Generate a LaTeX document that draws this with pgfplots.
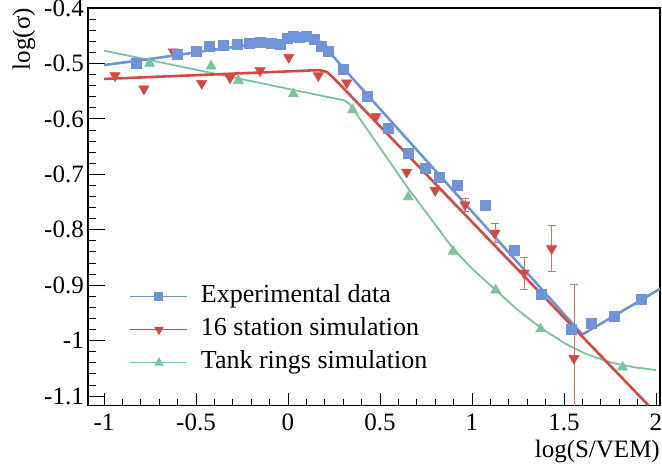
\documentclass[border=0pt]{standalone}
\usepackage{pgfplots}
\pgfplotsset{compat=1.18}
\usepackage{pgfplotstable}
\usepackage{fontspec}
\setmainfont{Liberation Serif}
\definecolor{cblue}{RGB}{112,148,216}
\definecolor{cred}{RGB}{214,72,66}
\definecolor{cgreen}{RGB}{124,196,156}
\definecolor{cerr}{RGB}{226,110,104}

\pgfplotstableread{
x y
-0.826 -0.500
-0.60 -0.484
-0.50 -0.478
-0.43 -0.469
-0.35 -0.467
-0.275 -0.465
-0.21 -0.464
-0.15 -0.461
-0.089 -0.463
-0.04 -0.465
-0.007 -0.455
0.029 -0.451
0.06 -0.453
0.10 -0.450
0.141 -0.456
0.178 -0.469
0.216 -0.478
0.30 -0.510
0.428 -0.559
0.546 -0.617
0.654 -0.662
0.745 -0.689
0.82 -0.706
0.922 -0.719
1.07 -0.755
1.228 -0.836
1.378 -0.916
1.54 -0.980
1.65 -0.968
1.773 -0.956
}\expdata
\pgfplotstableread{
x y e
1.92 -0.925 0.008
}\expdataerr
\pgfplotstableread{
x y
-0.94 -0.522
-0.783 -0.546
-0.623 -0.479
-0.469 -0.536
-0.315 -0.526
-0.152 -0.513
0.004 -0.489
0.165 -0.522
0.319 -0.535
0.478 -0.596
0.645 -0.696
0.80 -0.729
}\stationdata
\pgfplotstableread{
x y e
0.962 -0.755 0.011
1.125 -0.806 0.017
1.283 -0.878 0.029
1.433 -0.834 0.042
1.554 -1.032 0.133
}\stationdataerr
\pgfplotstableread{
x y
-0.753 -0.500
-0.418 -0.505
-0.27 -0.531
0.029 -0.555
0.351 -0.584
0.654 -0.741
0.898 -0.839
1.129 -0.909
1.373 -0.979
1.819 -1.048
}\ringdata

\begin{document}
\fontsize{25bp}{30bp}\selectfont
\begin{tikzpicture}
\path[use as bounding box] (-88bp,-60.5bp) rectangle (574bp,405.5bp);
\begin{axis}[
  at={(0,0)}, anchor=south west,
  scale only axis, width=572bp, height=397.5bp,
  xmin=-1.087, xmax=2.022, ymin=-1.117, ymax=-0.4,
  axis line style={line width=1.1bp},
  tick align=inside, xtick pos=bottom, ytick pos=left,
  xtick={-1,-0.5,0,0.5,1,1.5,2},
  xticklabels={-1,-0.5,0,0.5,1,1.5,2},
  ytick={-1.1,-1,-0.9,-0.8,-0.7,-0.6,-0.5,-0.4},
  yticklabels={-1.1,-1,-0.9,-0.8,-0.7,-0.6,-0.5,-0.4},
  minor x tick num=4, minor y tick num=4,
  xtick style={/pgfplots/major tick length=12bp, /pgfplots/minor tick length=6bp, line width=0.9bp, black},
  ytick style={/pgfplots/major tick length=17bp, /pgfplots/minor tick length=8.5bp, line width=0.9bp, black},
  xticklabel style={anchor=base, yshift=-24.5bp, inner sep=0pt},
  yticklabel style={anchor=east, xshift=-4bp, inner sep=0pt},
  legend image code/.code={\draw[mark repeat=2,mark phase=2,#1] plot coordinates {(0bp,0bp) (28.5bp,0bp) (57bp,0bp)}; \path (70bp,0bp);},
  legend style={at={(rel axis cs:0.0734,0.305)}, anchor=north west, draw=none, fill=none,
    inner sep=0pt, outer sep=0pt, row sep=9.3bp,
    font=\fontsize{26bp}{30bp}\selectfont,
    nodes={inner sep=0pt, text height=18bp, text depth=6bp}},
  legend cell align=left,
]
% legend images
\addlegendimage{color=cblue, line width=1bp, mark=square*, mark size=4bp, mark options={fill=cblue, draw=cblue}}
\addlegendentry{Experimental data}
\addlegendimage{color=cred, line width=1bp, mark=triangle*, mark size=4.6bp, mark options={rotate=180, fill=cred, draw=cred}}
\addlegendentry{16 station simulation}
\addlegendimage{color=cgreen, line width=1bp, mark=triangle*, mark size=4.6bp, mark options={fill=cgreen, draw=cgreen}}
\addlegendentry{Tank rings simulation}

% fit lines
\addplot[forget plot, color=cgreen, line width=1.8bp, line join=round] coordinates {
(-1,-0.477) (0.31,-0.567) (0.34,-0.575) (0.37,-0.590) (0.5,-0.652) (0.65,-0.724) (0.9,-0.835)
(1.0,-0.870) (1.13,-0.909) (1.25,-0.945) (1.37,-0.976) (1.5,-1.004) (1.62,-1.024) (1.75,-1.039) (1.88,-1.048) (2.0,-1.053)};
\addplot[forget plot, color=cblue, line width=2.6bp, line join=round] coordinates {
(-1,-0.503) (-0.75,-0.492) (-0.5,-0.480) (-0.25,-0.468) (-0.05,-0.460) (0.08,-0.455) (0.14,-0.455) (0.18,-0.462) (0.22,-0.477) (0.3,-0.508) (1.6,-0.989) (2.03,-0.905)};
\addplot[forget plot, color=cred, line width=2.6bp, line join=round] coordinates {
(-1,-0.528) (0.17,-0.512) (0.21,-0.515) (0.25,-0.527) (1.96,-1.117)};

% markers
\addplot[forget plot, only marks, mark=triangle*, mark size=6bp, mark options={fill=cgreen, draw=cgreen}] table[x=x,y=y] {\ringdata};
\addplot[forget plot, only marks, mark=triangle*, mark size=6bp, mark options={rotate=180, fill=cred, draw=cred}] table[x=x,y=y] {\stationdata};
\addplot[forget plot, only marks, mark=triangle*, mark size=6bp, mark options={rotate=180, fill=cred, draw=cred},
  error bars/.cd, y dir=both, y explicit,
  error bar style={color=cerr, line width=0.8bp},
  error mark options={rotate=90, mark size=4bp, line width=0.8bp, color=cerr}]
  table[x=x,y=y,y error=e] {\stationdataerr};
\addplot[forget plot, only marks, mark=square*, mark size=5bp, mark options={fill=cblue, draw=cblue}] table[x=x,y=y] {\expdata};
\addplot[forget plot, only marks, mark=square*, mark size=5bp, mark options={fill=cblue, draw=cblue},
  error bars/.cd, y dir=both, y explicit,
  error bar style={color=cblue, line width=0.8bp},
  error mark options={rotate=90, mark size=4bp, line width=0.8bp, color=cblue}]
  table[x=x,y=y,y error=e] {\expdataerr};
\end{axis}
\node[rotate=90, anchor=base east, inner sep=0pt] at (-58bp,397.5bp) {log(σ)};
\node[anchor=base east, inner sep=0pt] at (572bp,-51.5bp) {log(S/VEM)};
\end{tikzpicture}
\end{document}
